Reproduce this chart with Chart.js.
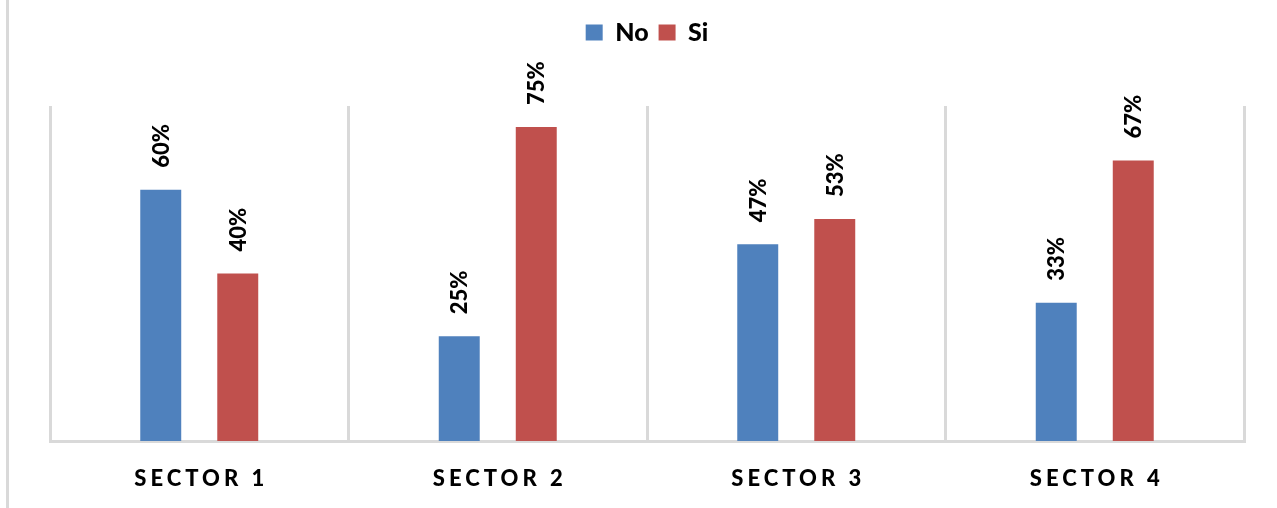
<!DOCTYPE html>
<html>
<head>
<meta charset="utf-8">
<script src="https://cdn.jsdelivr.net/npm/chart.js@4/dist/chart.umd.min.js"></script>
<style>
  html, body { margin: 0; padding: 0; background: #fff; }
  #wrap { position: relative; width: 1277px; height: 508px; }
  #wrap::before {
    content: ''; position: absolute; left: 6px; top: 0; width: 3px; height: 508px; background: #d9d9d9;
  }
  #chart { position: absolute; left: 0; top: 0; }
</style>
</head>
<body>
<div id="wrap"><canvas id="chart" width="1277" height="508"></canvas></div>
<script>
// ---------- Data ----------
const sectors = ['SECTOR 1', 'SECTOR 2', 'SECTOR 3', 'SECTOR 4'];
const noValues = [60, 25, 47, 33];
const siValues = [40, 75, 53, 67];

const BLUE = '#4F81BD';
const RED = '#C0504D';
const GRID = '#d9d9d9';
const FONT = 'Lato, "Open Sans", sans-serif';

// legend takes fixed room above the plot
const legendRoom = {
    id: 'legendRoom',
    beforeLayout(chart) {
        const lg = chart.legend;
        if (!lg || lg._fixed) return;
        const fit = lg.fit;
        lg.fit = function () { fit.call(this); this.height = 96; };
        lg._fixed = true;
    }
};

// letter spaced category labels
const spacedTicks = {
    id: 'spacedTicks',
    beforeDraw(chart) {
        const sc = chart.scales.x;
        if (sc._spaced) return;
        const orig = sc.drawLabels;
        sc.drawLabels = function (area) {
            const ctx = this.ctx;
            ctx.save();
            ctx.letterSpacing = '4px';
            ctx.translate(2, 0);
            orig.call(this, area);
            ctx.restore();
        };
        sc._spaced = true;
    }
};

// rotated value labels above bars
const valueLabels = {
    id: 'valueLabels',
    afterDatasetsDraw(chart) {
        const ctx = chart.ctx;
        chart.data.datasets.forEach((ds, i) => {
            chart.getDatasetMeta(i).data.forEach((bar, j) => {
                ctx.save();
                ctx.translate(bar.x + 1, bar.y - 22);
                ctx.rotate(-Math.PI / 2);
                ctx.font = '900 22px ' + FONT;
                ctx.fillStyle = '#000';
                ctx.textAlign = 'left';
                ctx.textBaseline = 'middle';
                ctx.fillText(ds.data[j] + '%', 0, 0);
                ctx.restore();
            });
        });
    }
};

const ctx = document.getElementById('chart').getContext('2d');
new Chart(ctx, {
    type: 'bar',
    data: {
        labels: sectors,
        datasets: [
            { label: 'No', data: noValues, backgroundColor: BLUE },
            { label: 'Si', data: siValues, backgroundColor: RED }
        ]
    },
    options: {
        responsive: false,
        animation: false,
        categoryPercentage: 0.516,
        barPercentage: 0.532,
        layout: { padding: { left: 50, right: 33, top: 10, bottom: 0 } },
        plugins: {
            legend: {
                position: 'top',
                labels: {
                    boxWidth: 17,
                    boxHeight: 16,
                    padding: 10,
                    color: '#000',
                    font: { family: FONT, size: 25, weight: '900' }
                }
            },
            tooltip: { enabled: false }
        },
        scales: {
            x: {
                grid: { color: GRID, lineWidth: 3, drawTicks: false, offset: true },
                border: { color: GRID, width: 3 },
                ticks: {
                    color: '#000',
                    padding: 25,
                    font: { family: FONT, size: 22, weight: '900' }
                },
                afterFit(scale) { scale.height = 67; }
            },
            y: { display: false, min: 0, max: 80 }
        }
    },
    plugins: [legendRoom, spacedTicks, valueLabels]
});
</script>
</body>
</html>
